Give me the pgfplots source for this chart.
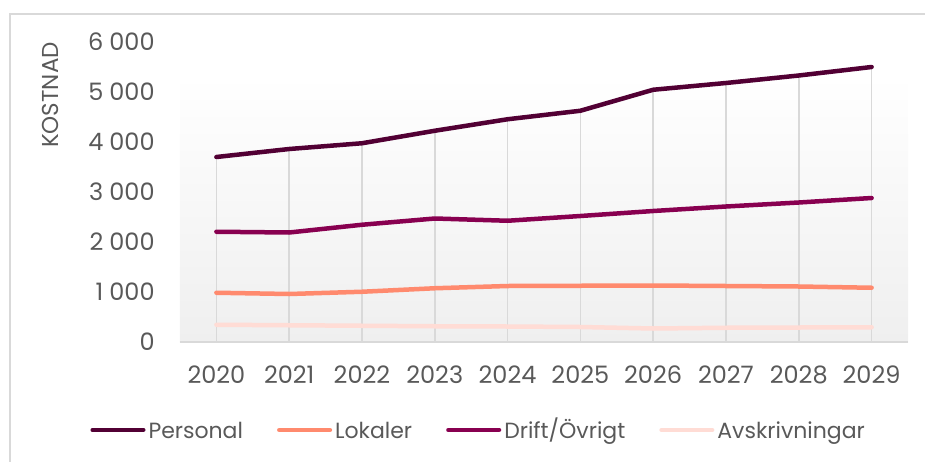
\documentclass[border=0pt]{standalone}
\usepackage{pgfplots}
\usepackage{pgfplotstable}
\pgfplotsset{compat=1.18}
\usepackage{fontspec}
\setmainfont{Poppins}
\definecolor{cPers}{HTML}{520034}
\definecolor{cLok}{HTML}{FF8A6E}
\definecolor{cDrift}{HTML}{880050}
\definecolor{cAvs}{HTML}{FFDCD5}
\definecolor{cGrid}{HTML}{D9D9D9}
\definecolor{cText}{HTML}{595959}
\definecolor{cWallB}{HTML}{EFEFEF}

\pgfplotstableread{
year pers lok drift avs
2020 3700 985 2205 345
2021 3860 960 2190 335
2022 3975 1005 2345 325
2023 4225 1075 2470 315
2024 4455 1120 2425 310
2025 4625 1125 2520 300
2026 5045 1130 2620 270
2027 5180 1120 2710 285
2028 5330 1110 2790 290
2029 5500 1085 2880 295
}\data

\newcommand{\lstrut}{\vphantom{ÖPg}}

\begin{document}
\begin{tikzpicture}
\path[use as bounding box] (-90pt,-59.5pt) rectangle (372.5pt,171pt);
\draw[cGrid, line width=0.75pt] (-85pt,-60pt) -- (-85pt,164pt) -- (373pt,164pt);
\begin{axis}[
  at={(0pt,0pt)}, anchor=south west,
  scale only axis, width=364pt, height=150pt,
  xmin=2019.5, xmax=2029.5, ymin=0, ymax=6000,
  xtick={2020,...,2029}, ytick={0,1000,...,6000},
  axis line style={draw=none}, major tick length=0pt,
  clip=false,
  /pgf/number format/assume math mode=true,
  x tick label style={/pgf/number format/1000 sep=, anchor=base, inner sep=0pt, yshift=-20.75pt, font=\fontsize{12}{14}\selectfont, text=cText},
  y tick label style={/pgf/number format/1000 sep={\hspace{0.25em}}, anchor=east, inner sep=0pt, xshift=-12.5pt, font=\fontsize{12}{14}\selectfont, text=cText},
  legend columns=4,
  legend style={at={(-0.1236,-0.2933)}, anchor=west, draw=none, fill=none, inner sep=0pt,
    font=\fontsize{11}{13}\selectfont, text=cText,
    /tikz/every even column/.append style={column sep=15.5pt},
    nodes={inner sep=1.5pt}},
  legend image code/.code={\draw[#1, line width=2.25pt, line cap=round] (1.1pt,0pt) -- (26.4pt,0pt);},
  every axis plot/.append style={line width=2.25pt, line join=round, line cap=round, mark=none},
]
\fill[top color=white, bottom color=cWallB] (axis cs:2019.5,0) rectangle (axis cs:2029.5,5340);
\draw[cGrid, line width=1pt] (axis cs:2019.5,0) -- (axis cs:2029.5,0);
\addplot[ycomb, cGrid, line width=0.75pt, forget plot] table[x=year,y=pers]{\data};
\addplot[cPers] table[x=year,y=pers]{\data};
\addlegendentry{\lstrut Personal}
\addplot[cLok] table[x=year,y=lok]{\data};
\addlegendentry{\lstrut Lokaler}
\addplot[cDrift] table[x=year,y=drift]{\data};
\addlegendentry{\lstrut Drift/Övrigt}
\addplot[cAvs] table[x=year,y=avs]{\data};
\addlegendentry{\lstrut Avskrivningar}
\end{axis}
\node[rotate=90, text=cText, font=\fontsize{11.5}{14}\selectfont, inner sep=0pt] at (-65pt,123.5pt) {KOSTNAD};
\end{tikzpicture}
\end{document}
